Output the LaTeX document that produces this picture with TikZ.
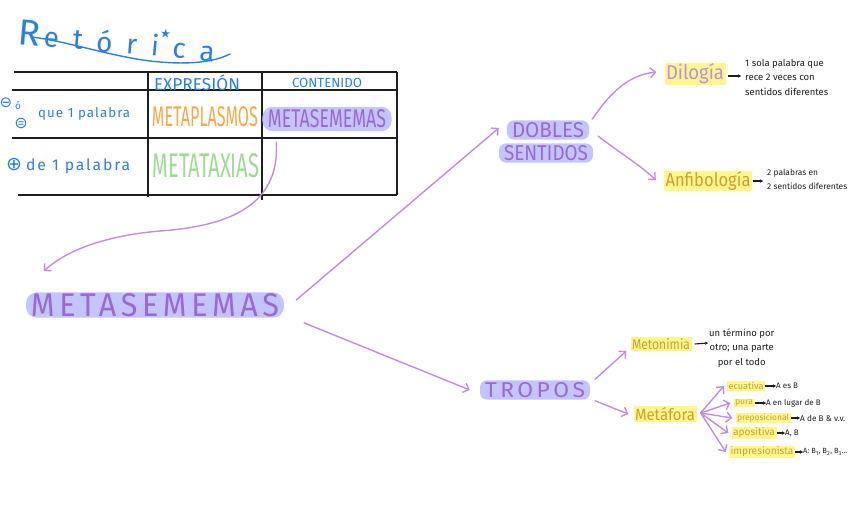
\documentclass[tikz,border=0pt]{standalone}
\usepackage{fontspec}
\setmainfont{Fira Sans}
\newfontfamily\symfont{DejaVu Sans}
\usetikzlibrary{arrows.meta,calc}
\definecolor{tblue}{HTML}{2A7FE6}
\definecolor{mpurple}{HTML}{9A68D8}
\definecolor{apurple}{HTML}{C38BE3}
\definecolor{hlblue}{HTML}{C4C4FF}
\definecolor{hlyellow}{HTML}{FFF78C}
\definecolor{morange}{HTML}{F7A84A}
\definecolor{mgreen}{HTML}{9EDC94}
\definecolor{ochre}{HTML}{D29E33}
\definecolor{ink}{HTML}{1E1E1E}
\newcommand\fitwh[3]{\resizebox{#1pt}{#2pt}{#3}}
\newcommand\fitw[2]{\resizebox{#1pt}{!}{#2}}
\tikzset{
  txt/.style={inner sep=0pt, anchor=center},
  hlb/.style={fill=hlblue, rounded corners=7pt, inner xsep=5pt, inner ysep=2pt, text=mpurple, anchor=center},
  hly/.style={fill=hlyellow, inner xsep=1.5pt, inner ysep=1pt, text=ochre, anchor=center},
  conn/.style={draw=apurple, line width=1.4pt, line cap=round, -{Straight Barb[length=5pt,width=10pt,line width=1.4pt]}},
  smallarr/.style={draw=ink, line width=1.1pt, -{Stealth[length=3pt,width=3.5pt]}},
  rulel/.style={draw=ink, line width=1.2pt},
  note/.style={inner sep=0pt, text=ink, anchor=west, align=left, font=\fontsize{9.5}{14.5}\selectfont},
  res/.style={inner sep=0pt, text=ink, anchor=west, font=\fontsize{8}{8}\selectfont},
  lbl/.style={inner sep=0pt, text=tblue, anchor=west},
}
\begin{document}
\begin{tikzpicture}[x=1pt,y=-1pt]
\useasboundingbox (0,0) rectangle (848,530);
% title
\node[txt, text=tblue, rotate=-5.1] (title) at (117,39)
  {\fitw{197}{{\fontsize{30}{30}\selectfont R}\hspace{3pt}{\fontsize{23}{23}\selectfont\addfontfeatures{LetterSpace=50}etóri\rlap{\raisebox{16pt}{\hspace{0pt}\symfont\fontsize{10}{10}\selectfont ★}}\hspace{0.5em}ca}}};
\draw[tblue, line width=1.4pt, line cap=round] (32,37) .. controls (70,42) and (110,56) .. (150,61) .. controls (185,65) and (212,63) .. (230,54);
% table
\draw[rulel] (14,72) -- (397,72);
\draw[rulel] (12,90) -- (397,90);
\draw[rulel] (12,138) -- (397,138);
\draw[rulel] (18,195) -- (397,195);
\draw[rulel] (148,72) -- (148,197);
\draw[rulel] (262,72) -- (262,200);
\draw[rulel] (397,72) -- (397,195);
\node[txt, text=tblue] (hexp) at (197,83) {\fitw{86}{EXPRESIÓN}};
\node[txt, text=tblue] (hcon) at (327,83) {\fitw{70}{CONTENIDO}};
\node[txt, text=tblue] (sym1) at (6,103) {\symfont\fontsize{15}{15}\selectfont ⊖};
\node[txt, text=tblue] (sym2) at (18,106) {\fontsize{10}{10}\selectfont ó};
\node[txt, text=tblue] (sym3) at (21,123) {\symfont\fontsize{16}{16}\selectfont ⊜};
\node[lbl] (r1) at (38,114) {\fitw{92}{\fontsize{11}{11}\selectfont\addfontfeatures{LetterSpace=8}que 1 palabra}};
\node[txt, text=tblue] (sym4) at (14,165) {\symfont\fontsize{19}{19}\selectfont ⊕};
\node[lbl] (r2) at (26,166) {\fitw{104}{\fontsize{11}{11}\selectfont\addfontfeatures{LetterSpace=12}de 1 palabra}};
\node[txt, text=morange] (mplas) at (205,117) {\fitwh{106}{20}{METAPLASMOS}};
\node[txt, text=mgreen] (mtax) at (206,166) {\fitwh{107}{24}{METATAXIAS}};
\node[hlb, rounded corners=10pt, inner xsep=5.5pt, inner ysep=3pt] (tabsem) at (327,119) {\fitwh{118}{18}{METASEMEMAS}};
% main
\node[hlb, rounded corners=11pt, inner ysep=1pt] (main) at (155,305) {\fitwh{248}{23}{\addfontfeatures{LetterSpace=15}METASEMEMAS}};
\draw[conn] ($(tabsem.south west)+(14,11)$) .. controls (280,205) and (230,226) .. (160,231) .. controls (90,237) and (58,258) .. ($(main.north west)+(18,-21)$);
% dobles sentidos
\node[hlb] (dobles) at (548,130) {\fitwh{72}{15}{DOBLES}};
\node[hlb] (sent) at (546,153) {\fitwh{84}{15}{SENTIDOS}};
\draw[conn] ($(main.east)+(12,-5)$) -- ($(dobles.west)+(-8,-2)$);
\node[hly, text=apurple] (dilog) at (695,74) {\fitwh{58}{16}{Dilogía}};
\node[note] (dilnote) at (745,77) {1 sola palabra que\\rece 2 veces con\\sentidos diferentes};
\draw[conn] ($(dobles.north east)+(3,-1)$) .. controls (612,90) and (630,75) .. ($(dilog.west)+(-8,-2)$);
\draw[smallarr] ($(dilog.east)+(2,2)$) -- ($(dilnote.west)+(-4,-1)$);
\node[hly] (anfi) at (708,181) {\fitwh{85}{15}{Anfibología}};
\node[note] (anfnote) at (767,180) {\fitw{80}{\begin{tabular}{@{}l@{}}2 palabras en\\[1pt]2 sentidos diferentes\end{tabular}}};
\draw[conn] ($(sent.north east)+(5,-7)$) .. controls (620,153) and (640,165) .. ($(anfi.west)+(-8,-1)$);
\draw[smallarr] ($(anfi.east)+(1,0)$) -- ($(anfnote.west)+(-4,1)$);
% tropos
\node[hlb] (tropos) at (535,390) {\fitwh{100}{15}{\addfontfeatures{LetterSpace=15}TROPOS}};
\draw[conn] ($(main.south east)+(20,5)$) -- ($(tropos.west)+(-10,0)$);
\node[hly] (meton) at (661,344) {\fitwh{58}{11}{Metonimia}};
\node[note, align=center] (metnote) at (709,348) {un término por\\otro; una parte\\por el todo};
\draw[conn] ($(tropos.north east)+(5,-1)$) -- ($(meton.west)+(-4,7)$);
\draw[smallarr] ($(meton.east)+(3,0)$) -- ($(metnote.west)+(-1,-5)$);
\node[hly] (metaf) at (665,414) {\fitwh{60}{13}{Metáfora}};
\draw[conn] ($(tropos.south east)+(5,1)$) -- ($(metaf.west)+(-5,0)$);
% metafora types
\node[hly] (ecu) at (746,386) {\fitw{35}{ecuativa}};
\node[hly] (pura) at (744,403) {\fitw{18}{pura}};
\node[hly] (prep) at (763,418) {\fitw{52}{preposicional}};
\node[hly] (apos) at (754,433) {\fitw{42}{apositiva}};
\node[hly] (impr) at (762,452) {\fitw{63}{impresionista}};
\node[res] (recu) at (776,386) {A es B};
\node[res] (rpura) at (766,403) {A en lugar de B};
\node[res] (rprep) at (800,418) {\fitw{45}{A de B \& v.v.}};
\node[res] (rapos) at (785,433) {A, B};
\node[res] (rimpr) at (803,452) {\fitw{44}{A: B\textsubscript{1}, B\textsubscript{2}, B\textsubscript{3}...}};
\foreach \t in {ecu,pura,prep,apos,impr}
  \draw[conn] ($(metaf.east)+(4,-1)$) -- ($(\t.west)+(-3,0)$);
\draw[smallarr] (ecu.east) -- (recu.west);
\draw[smallarr] (pura.east) -- (rpura.west);
\draw[smallarr] (prep.east) -- (rprep.west);
\draw[smallarr] (apos.east) -- (rapos.west);
\draw[smallarr] (impr.east) -- (rimpr.west);
\end{tikzpicture}
\end{document}
